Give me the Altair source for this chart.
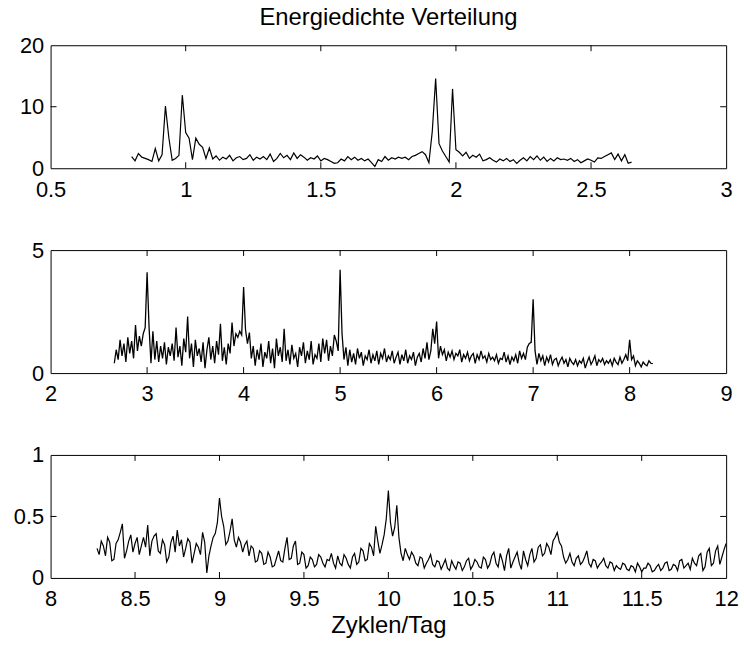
import altair as alt
import pandas as pd

TITLE = "Energiedichte Verteilung"
XLABEL = "Zyklen/Tag"

# ---- panel 1: 0.8 .. 2.65 cycles/day ----
p1_start, p1_step = 0.80, 0.0125
p1_vals = [
    1.9, 1.2, 2.4, 1.8, 1.6, 1.4, 1.1, 3.2, 1.2, 2.2,
    10.1, 5.0, 1.3, 1.6, 2.1, 11.9, 5.8, 4.9, 1.4, 4.9,
    3.9, 3.4, 1.6, 3.3, 1.5, 2.0, 1.3, 1.8, 1.5, 2.1,
    1.2, 1.7, 1.9, 1.4, 1.6, 2.2, 1.3, 1.8, 1.5, 1.9,
    1.4, 2.3, 1.1, 1.6, 2.4, 1.7, 2.1, 1.4, 2.5, 1.6,
    2.2, 1.8, 1.3, 1.7, 1.5, 2.0, 1.2, 1.6, 1.4, 1.1,
    0.8, 0.9, 1.5, 1.2, 1.9, 1.4, 1.8, 1.3, 1.6, 1.2,
    1.5, 0.9, 0.3, 1.4, 1.1, 1.9, 1.3, 1.7, 1.5, 1.8,
    1.6, 1.8, 1.4, 1.9, 2.1, 2.4, 2.7, 2.2, 0.9, 6.0,
    14.6, 4.0, 2.8, 1.9, 1.0, 12.9, 3.0, 2.6, 2.0, 2.6,
    1.6, 2.1, 1.8, 2.3, 1.2, 1.4, 1.7, 1.3, 1.0, 1.5,
    1.2, 1.6, 1.1, 1.4, 0.8, 1.3, 1.7, 1.2, 1.9, 1.4,
    2.0, 1.3, 1.8, 1.1, 1.6, 1.2, 1.7, 1.4, 1.5, 1.3,
    1.6, 1.1, 1.4, 0.9, 1.2, 1.5, 1.3, 1.0, 1.7, 1.6,
    1.9, 2.2, 2.5, 1.4, 2.3, 1.2, 2.2, 0.8, 1.0,
]

# ---- panel 2: 2.66 .. 8.24 cycles/day ----
p2_start, p2_step = 2.66, 0.02
p2_vals = [
    0.40, 0.95, 0.55, 1.35, 0.70, 1.20, 0.45, 1.45, 0.80, 1.30,
    0.60, 1.95, 0.90, 1.50, 1.10, 1.60, 1.85,
    4.10,
    1.90, 0.40, 1.70, 0.55, 1.30, 0.45, 1.10, 0.60, 1.25, 0.35,
    1.05, 0.70, 1.20, 0.50, 1.85, 0.65, 1.10, 0.30, 1.40, 0.85,
    2.30, 0.60, 1.20, 0.25, 1.35, 0.70, 1.00, 0.45, 1.25, 0.20,
    0.95, 1.45, 0.55, 1.10, 0.40, 1.30, 0.75, 2.00, 0.50, 1.05,
    0.35, 1.20, 0.80, 2.05, 1.10, 1.60, 1.45, 1.70, 1.55,
    3.50,
    1.75, 1.20, 1.65, 0.60, 1.10, 0.30, 0.95, 0.55, 1.20, 0.25,
    0.85, 0.60, 1.30, 0.40, 1.00, 0.20, 1.40, 0.70, 1.05, 0.45,
    1.80, 0.50, 0.95, 0.35, 1.15, 0.60, 0.80, 0.25, 1.05, 0.70,
    1.25, 0.40, 0.90, 0.55, 1.30, 0.35, 0.75, 0.60, 1.20, 0.45,
    1.40, 0.80, 1.35, 0.50, 1.10, 0.70, 1.55, 1.30, 0.90,
    4.20,
    1.60, 0.55, 1.05, 0.30, 0.95, 0.45, 0.80, 0.35, 1.00, 0.60,
    0.85, 0.30, 0.70, 0.55, 0.95, 0.40, 0.75, 0.50, 0.90, 0.35,
    0.80, 0.60, 1.00, 0.45, 0.70, 0.55, 0.90, 0.40, 0.65, 0.85,
    0.35, 0.75, 0.50, 0.95, 0.40, 0.70, 0.55, 0.85, 0.30, 0.65,
    0.80, 0.45, 1.00, 0.60, 1.25, 0.55, 0.90, 1.80, 1.20,
    2.10,
    0.60, 1.10, 0.75, 0.95, 0.50, 0.85, 0.65, 0.90, 0.55, 0.80,
    0.70, 0.95, 0.45, 0.75, 0.60, 0.85, 0.50, 0.70, 0.80, 0.40,
    0.75, 0.55, 0.90, 0.60, 0.70, 0.45, 0.80, 0.55, 0.65, 0.50,
    0.75, 0.40, 0.60, 0.55, 0.85, 0.45, 0.70, 0.35, 0.65, 0.50,
    0.75, 0.40, 0.90, 0.60, 0.80, 0.55, 1.05, 1.20, 1.25,
    3.00,
    0.90, 0.35, 0.80, 0.50, 0.70, 0.30, 0.65, 0.45, 0.75, 0.35,
    0.55, 0.60, 0.30, 0.50, 0.65, 0.40, 0.55, 0.25, 0.60, 0.45,
    0.35, 0.55, 0.30, 0.50, 0.40, 0.60, 0.20, 0.45, 0.65, 0.35,
    0.50, 0.70, 0.30, 0.55, 0.45, 0.60, 0.35, 0.50, 0.40, 0.55,
    0.30, 0.60, 0.45, 0.35, 0.65, 0.40, 0.55, 0.75, 0.50,
    1.35,
    0.55, 0.70, 0.30, 0.50, 0.40, 0.25, 0.45, 0.35, 0.30, 0.50,
    0.40, 0.38,
]

# ---- panel 3: 8.275 .. 12.0 cycles/day ----
p3_start, p3_step = 8.275, 0.0125
p3_vals = [
    0.24, 0.19, 0.30, 0.26, 0.18, 0.33, 0.29, 0.14, 0.15, 0.28,
    0.31, 0.37, 0.44, 0.16, 0.22, 0.30, 0.35, 0.21, 0.28, 0.33,
    0.19, 0.26, 0.33, 0.25, 0.43, 0.18, 0.30, 0.34, 0.36, 0.22,
    0.20, 0.31, 0.27, 0.13, 0.17, 0.29, 0.34, 0.21, 0.39, 0.26,
    0.31, 0.17, 0.24, 0.32, 0.29, 0.12, 0.20, 0.28, 0.25, 0.19,
    0.37, 0.29, 0.04, 0.18, 0.26, 0.33, 0.36, 0.45, 0.65, 0.50,
    0.42, 0.27, 0.30, 0.38, 0.48, 0.31, 0.25, 0.33, 0.29, 0.21,
    0.27, 0.30, 0.18, 0.26, 0.24, 0.13, 0.14, 0.22, 0.20, 0.11,
    0.12, 0.21, 0.17, 0.09, 0.10, 0.16, 0.22, 0.14, 0.13, 0.24,
    0.33, 0.15, 0.16, 0.26, 0.30, 0.11, 0.12, 0.21, 0.19, 0.08,
    0.10, 0.17, 0.15, 0.09, 0.11, 0.19, 0.17, 0.12, 0.09, 0.15,
    0.14, 0.20, 0.12, 0.08, 0.18, 0.12, 0.10, 0.19, 0.16, 0.11,
    0.08, 0.17, 0.20, 0.11, 0.13, 0.24, 0.22, 0.14, 0.15, 0.28,
    0.25, 0.18, 0.42, 0.30, 0.20, 0.27, 0.35, 0.48, 0.71, 0.45,
    0.34, 0.41, 0.59, 0.33, 0.20, 0.14, 0.24, 0.19, 0.15, 0.21,
    0.18, 0.12, 0.10, 0.17, 0.16, 0.08, 0.12, 0.15, 0.19, 0.11,
    0.09, 0.14, 0.13, 0.07, 0.11, 0.15, 0.08, 0.06, 0.14, 0.10,
    0.07, 0.13, 0.12, 0.06, 0.09, 0.14, 0.16, 0.07, 0.10, 0.15,
    0.13, 0.09, 0.08, 0.17, 0.15, 0.08, 0.11, 0.18, 0.21, 0.12,
    0.09, 0.20, 0.14, 0.06, 0.18, 0.24, 0.08, 0.13, 0.17, 0.21,
    0.12, 0.07, 0.22, 0.15, 0.10, 0.19, 0.24, 0.13, 0.16, 0.25,
    0.27, 0.18, 0.20, 0.28, 0.25, 0.19, 0.30, 0.33, 0.37, 0.29,
    0.26, 0.17, 0.12, 0.15, 0.20, 0.13, 0.10, 0.16, 0.18, 0.11,
    0.13, 0.17, 0.22, 0.12, 0.09, 0.15, 0.14, 0.08, 0.11, 0.13,
    0.16, 0.10, 0.08, 0.13, 0.12, 0.06, 0.10, 0.08, 0.07, 0.12,
    0.11, 0.07, 0.06, 0.10, 0.09, 0.05, 0.12, 0.09, 0.05, 0.08,
    0.08, 0.12, 0.10, 0.05, 0.06, 0.09, 0.11, 0.06, 0.08, 0.12,
    0.13, 0.06, 0.07, 0.11, 0.10, 0.06, 0.14, 0.15, 0.08, 0.10,
    0.12, 0.07, 0.16, 0.12, 0.10, 0.18, 0.20, 0.06, 0.09, 0.21,
    0.24, 0.10, 0.12, 0.22, 0.26, 0.11, 0.17, 0.23, 0.28,
]

p1_xdom, p1_xticks = [0.5, 3], [0.5, 1, 1.5, 2, 2.5, 3]
p1_ydom, p1_yticks = [0, 20], [0, 10, 20]
p2_xdom, p2_xticks = [2, 9], [2, 3, 4, 5, 6, 7, 8, 9]
p2_ydom, p2_yticks = [0, 5], [0, 5]
p3_xdom, p3_xticks = [8, 12], [8, 8.5, 9, 9.5, 10, 10.5, 11, 11.5, 12]
p3_ydom, p3_yticks = [0, 1], [0, 0.5, 1]

W, H = 681, 124
FONT = "Liberation Sans"


def freq_grid(start, step, n):
    return [round(start + step * i, 5) for i in range(n)]


def panel(xs, ys, xdom, xticks, ydom, yticks, xtitle=None, lw=1.2):
    df = pd.DataFrame({"f": xs, "e": ys})
    xs_ = alt.Scale(domain=xdom, nice=False, zero=False)
    ys_ = alt.Scale(domain=ydom, nice=False, zero=False)
    xaxis = alt.Axis(values=xticks, format="~g", labelFlush=False, labelPadding=11,
                     title=xtitle if xtitle else None)
    yaxis = alt.Axis(values=yticks, format="~g", labelPadding=7, title=None)
    X = alt.X("f:Q", scale=xs_, axis=xaxis)
    Y = alt.Y("e:Q", scale=ys_, axis=yaxis)
    line = alt.Chart(df).mark_line(color="black", strokeWidth=lw, clip=True).encode(x=X, y=Y)
    inner_x = pd.DataFrame({"f": [v for v in xticks if xdom[0] < v < xdom[1]]})
    inner_y = pd.DataFrame({"e": [v for v in yticks if ydom[0] < v < ydom[1]]})
    bottom = alt.Chart(inner_x).mark_rule(color="black", strokeWidth=1).encode(
        x=X, y=alt.value(H), y2=alt.value(H - 6))
    top = alt.Chart(inner_x).mark_rule(color="black", strokeWidth=1).encode(
        x=X, y=alt.value(0), y2=alt.value(6))
    left = alt.Chart(inner_y).mark_rule(color="black", strokeWidth=1).encode(
        y=Y, x=alt.value(0), x2=alt.value(6))
    right = alt.Chart(inner_y).mark_rule(color="black", strokeWidth=1).encode(
        y=Y, x=alt.value(W), x2=alt.value(W - 6))
    return alt.layer(line, bottom, top, left, right).properties(width=W, height=H)


c1 = panel(freq_grid(p1_start, p1_step, len(p1_vals)), p1_vals, p1_xdom, p1_xticks, p1_ydom, p1_yticks)
c2 = panel(freq_grid(p2_start, p2_step, len(p2_vals)), p2_vals, p2_xdom, p2_xticks, p2_ydom, p2_yticks, lw=1.3)
c3 = panel(freq_grid(p3_start, p3_step, len(p3_vals)), p3_vals, p3_xdom, p3_xticks, p3_ydom, p3_yticks, xtitle=XLABEL)

chart = alt.vconcat(c1, c2, c3, spacing=82.5, bounds="flush").resolve_scale(
    x="independent", y="independent"
).properties(
    title=alt.TitleParams(TITLE, font=FONT, fontSize=24, fontWeight="normal", color="black",
                          anchor="middle", frame="group", offset=4),
    padding={"left": 12, "top": 3, "right": 5, "bottom": 5},
    background="white",
).configure_view(
    stroke="black", strokeWidth=1
).configure_axis(
    labelFont=FONT, labelFontSize=22, labelColor="black",
    titleFont=FONT, titleFontSize=24, titleFontWeight="normal", titleColor="black",
    titlePadding=4,
    domain=False, ticks=False, tickSize=0, grid=False,
)

chart.save("out.html", embed_options={"renderer": "svg", "actions": False})
